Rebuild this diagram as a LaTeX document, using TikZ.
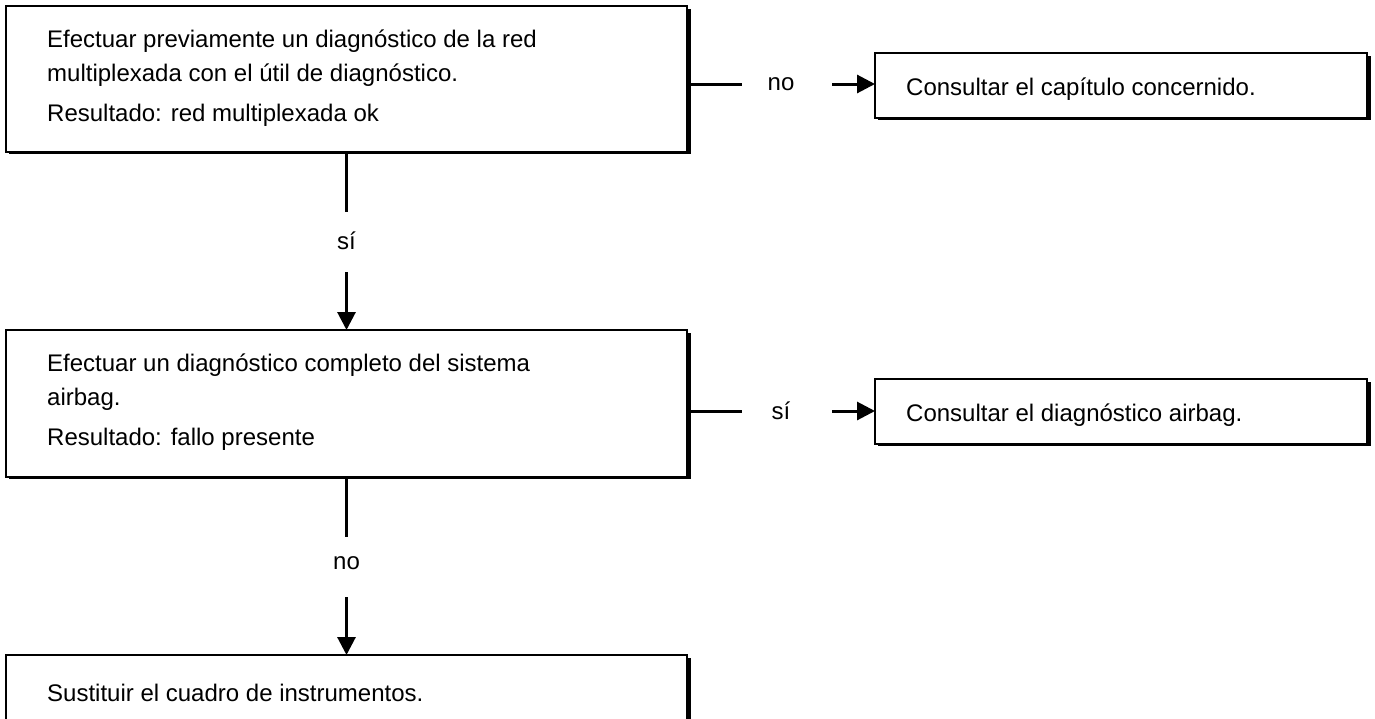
\documentclass[tikz,border=0pt]{standalone}
\usepackage{fontspec}
\setmainfont{Liberation Sans}
\usetikzlibrary{arrows.meta,calc}
\begin{document}
\begin{tikzpicture}[x=1pt,y=-1pt,
  box/.style={draw,line width=2.5pt,inner sep=0pt,outer sep=0pt,anchor=north west},
  txt/.style={anchor=base west,inner sep=0pt,font=\fontsize{24}{28}\selectfont},
  lbl/.style={inner sep=0pt,font=\fontsize{24}{28}\selectfont},
  conn/.style={line width=3pt},
  arr/.style={line width=3pt,-{Triangle[length=18pt,width=18pt]}}]
\clip (0,0) rectangle (1375,718);
\fill[white] (0,0) rectangle (1375,718);
% boxes
\node[box,minimum width=681pt,minimum height=146pt] (b1) at (6,6) {};
\node[box,minimum width=492pt,minimum height=65pt] (b2) at (875,53) {};
\node[box,minimum width=681pt,minimum height=147pt] (b3) at (6,330) {};
\node[box,minimum width=492pt,minimum height=65pt] (b4) at (875,379) {};
\node[box,minimum width=681pt,minimum height=120pt] (b5) at (6,655) {};
% shadows (thick right and bottom edges)
\foreach \b in {b1,b2,b3,b4,b5}{
  \fill ($(\b.north east)+(-1,3)$) rectangle ($(\b.south east)+(4,1.5)$);
  \fill ($(\b.south west)+(3,-1)$) rectangle ($(\b.south east)+(4,1.5)$);
}
% texts
\node[txt] (t1a) at (47,47) {Efectuar previamente un diagnóstico de la red};
\node[txt] (t1b) at (47,81) {multiplexada con el útil de diagnóstico.};
\node[txt] (t1c) at (47,121) {Resultado: red multiplexada ok};
\node[txt] (t2) at (906,95) {Consultar el capítulo concernido.};
\node[txt] (t3a) at (47,371) {Efectuar un diagnóstico completo del sistema};
\node[txt] (t3b) at (47,405) {airbag.};
\node[txt] (t3c) at (47,445) {Resultado: fallo presente};
\node[txt] (t4) at (906,421) {Consultar el diagnóstico airbag.};
\node[txt] (t5) at (47,701) {Sustituir el cuadro de instrumentos.};
% horizontal connectors
\coordinate (h1) at (742,84);
\coordinate (h1s) at (832,84);
\node[lbl] (l1) at (781,84) {no};
\draw[conn] (b1.north east |- h1) -- (h1);
\draw[arr] (h1s) -- (b2.west |- h1s);
\coordinate (h2) at (742,411);
\coordinate (h2s) at (832,411);
\node[lbl] (l2) at (781,411) {sí};
\draw[conn] (b3.north east |- h2) -- (h2);
\draw[arr] (h2s) -- (b4.west |- h2s);
% vertical connectors
\coordinate (v1) at ($(b1.south)+(0,60)$);
\coordinate (v1s) at ($(b1.south)+(0,120)$);
\node[lbl] (l3) at ($(b1.south)+(0,89)$) {sí};
\draw[conn] (b1.south) -- (v1);
\draw[arr] (v1s) -- (b3.north);
\coordinate (v2) at ($(b3.south)+(0,60)$);
\coordinate (v2s) at ($(b3.south)+(0,120)$);
\node[lbl] (l4) at ($(b3.south)+(0,86)$) {no};
\draw[conn] (b3.south) -- (v2);
\draw[arr] (v2s) -- (b5.north);
\end{tikzpicture}
\end{document}
